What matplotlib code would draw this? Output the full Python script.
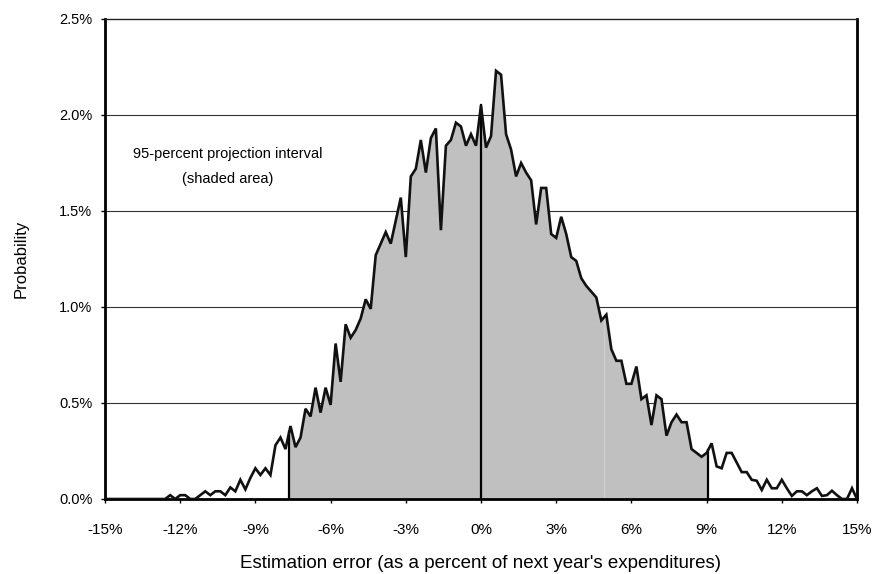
import numpy as np
import matplotlib
matplotlib.use("Agg")
import matplotlib.pyplot as plt
from matplotlib.ticker import FuncFormatter

plt.rcParams.update({
    "font.family": ["Liberation Sans", "DejaVu Sans"],
    "font.size": 10,
})

# ── Data: probability (%) of each estimation error bin (0.2-point bins) ──
err_start, err_step = -15.0, 0.2
probability = [
    0, 0, 0, 0, 0, 0, 0, 0, 0, 0, 0, 0, 0,
    0.02, 0.0, 0.02, 0.02, 0.0, 0.0, 0.02, 0.04, 0.02, 0.04,
    0.04, 0.02, 0.06, 0.04, 0.10, 0.05, 0.11, 0.16, 0.125, 0.16,
    0.125, 0.28, 0.32, 0.26, 0.38, 0.27, 0.32, 0.47, 0.43, 0.58,
    0.45, 0.58, 0.49, 0.81, 0.61, 0.91, 0.84, 0.88, 0.94, 1.04,
    0.99, 1.27, 1.33, 1.39, 1.33, 1.45, 1.57, 1.26, 1.68, 1.72,
    1.87, 1.70, 1.88, 1.93, 1.40, 1.84, 1.87, 1.96, 1.94, 1.84,
    1.90, 1.84, 2.05, 1.83, 1.89, 2.23, 2.21, 1.90, 1.82, 1.68,
    1.75, 1.70, 1.66, 1.43, 1.62, 1.62, 1.38, 1.36, 1.47, 1.38,
    1.26, 1.24, 1.15, 1.11, 1.08, 1.05, 0.93, 0.96, 0.78, 0.72,
    0.72, 0.60, 0.60, 0.69, 0.52, 0.54, 0.385, 0.54, 0.52, 0.33,
    0.40, 0.44, 0.40, 0.40, 0.26, 0.24, 0.22, 0.24, 0.29, 0.17,
    0.16, 0.24, 0.24, 0.19, 0.14, 0.14, 0.10, 0.095, 0.047, 0.10,
    0.056, 0.056, 0.10, 0.056, 0.016, 0.04, 0.04, 0.02, 0.04, 0.056,
    0.016, 0.02, 0.043, 0.02, 0.0, 0.0, 0.056, 0.0,
]
interval_lo, interval_hi = -7.65, 9.06
center = 0.0
x_ticks = [-15, -12, -9, -6, -3, 0, 3, 6, 9, 12, 15]
y_ticks = [0.0, 0.5, 1.0, 1.5, 2.0, 2.5]

x = err_start + err_step * np.arange(len(probability))
y = np.array(probability)

fig = plt.figure(figsize=(8.76, 5.74), dpi=100)
ax = fig.add_axes([105 / 876, 1 - 499 / 574, 752 / 876, 480 / 574])

# shaded 95% interval
inside = (x > interval_lo) & (x < interval_hi)
xs = np.concatenate([[interval_lo], x[inside], [interval_hi]])
ys = np.interp(xs, x, y)
ax.fill_between(xs, 0, ys, color="#C0C0C0", linewidth=0, zorder=1)
ax.axvline(4.9, ymax=np.interp(4.9, x, y) / 2.5, color="#D4D4D4", lw=0.6, zorder=1.5)

for v in y_ticks[1:-1]:
    ax.axhline(v, color="#333333", lw=0.8, zorder=0.5)

for xv in (interval_lo, center, interval_hi):
    ax.plot([xv, xv], [0, np.interp(xv, x, y)], color="black", lw=1.6, zorder=2)

ax.plot(x, y, color="#111111", lw=1.9, solid_joinstyle="miter", zorder=3)

ax.set_xlim(-15, 15)
ax.set_ylim(0, 2.5)
ax.set_xticks(x_ticks)
ax.set_yticks(y_ticks)
ax.xaxis.set_major_formatter(FuncFormatter(lambda v, p: f"{v:.0f}%".replace("\u2212", "-")))
ax.yaxis.set_major_formatter(FuncFormatter(lambda v, p: f"{v:.1f}%"))
ax.tick_params(direction="out", length=3, width=1, colors="black")
ax.tick_params(axis="y", labelsize=10.5, pad=6)
ax.tick_params(axis="x", labelsize=11, pad=14)

for side in ("left", "right", "bottom"):
    ax.spines[side].set_linewidth(2)
    ax.spines[side].set_color("black")
ax.spines["top"].set_linewidth(1)
ax.spines["top"].set_color("#222222")

ax.set_xlabel("Estimation error (as a percent of next year's expenditures)", fontsize=13.5, labelpad=13)
ax.set_ylabel("Probability", fontsize=12, labelpad=22)

ax.text(-10.1, 1.73, "95-percent projection interval\n(shaded area)", ha="center", va="center",
        fontsize=10.5, linespacing=2.0)

fig.savefig("out.png", dpi=100)
